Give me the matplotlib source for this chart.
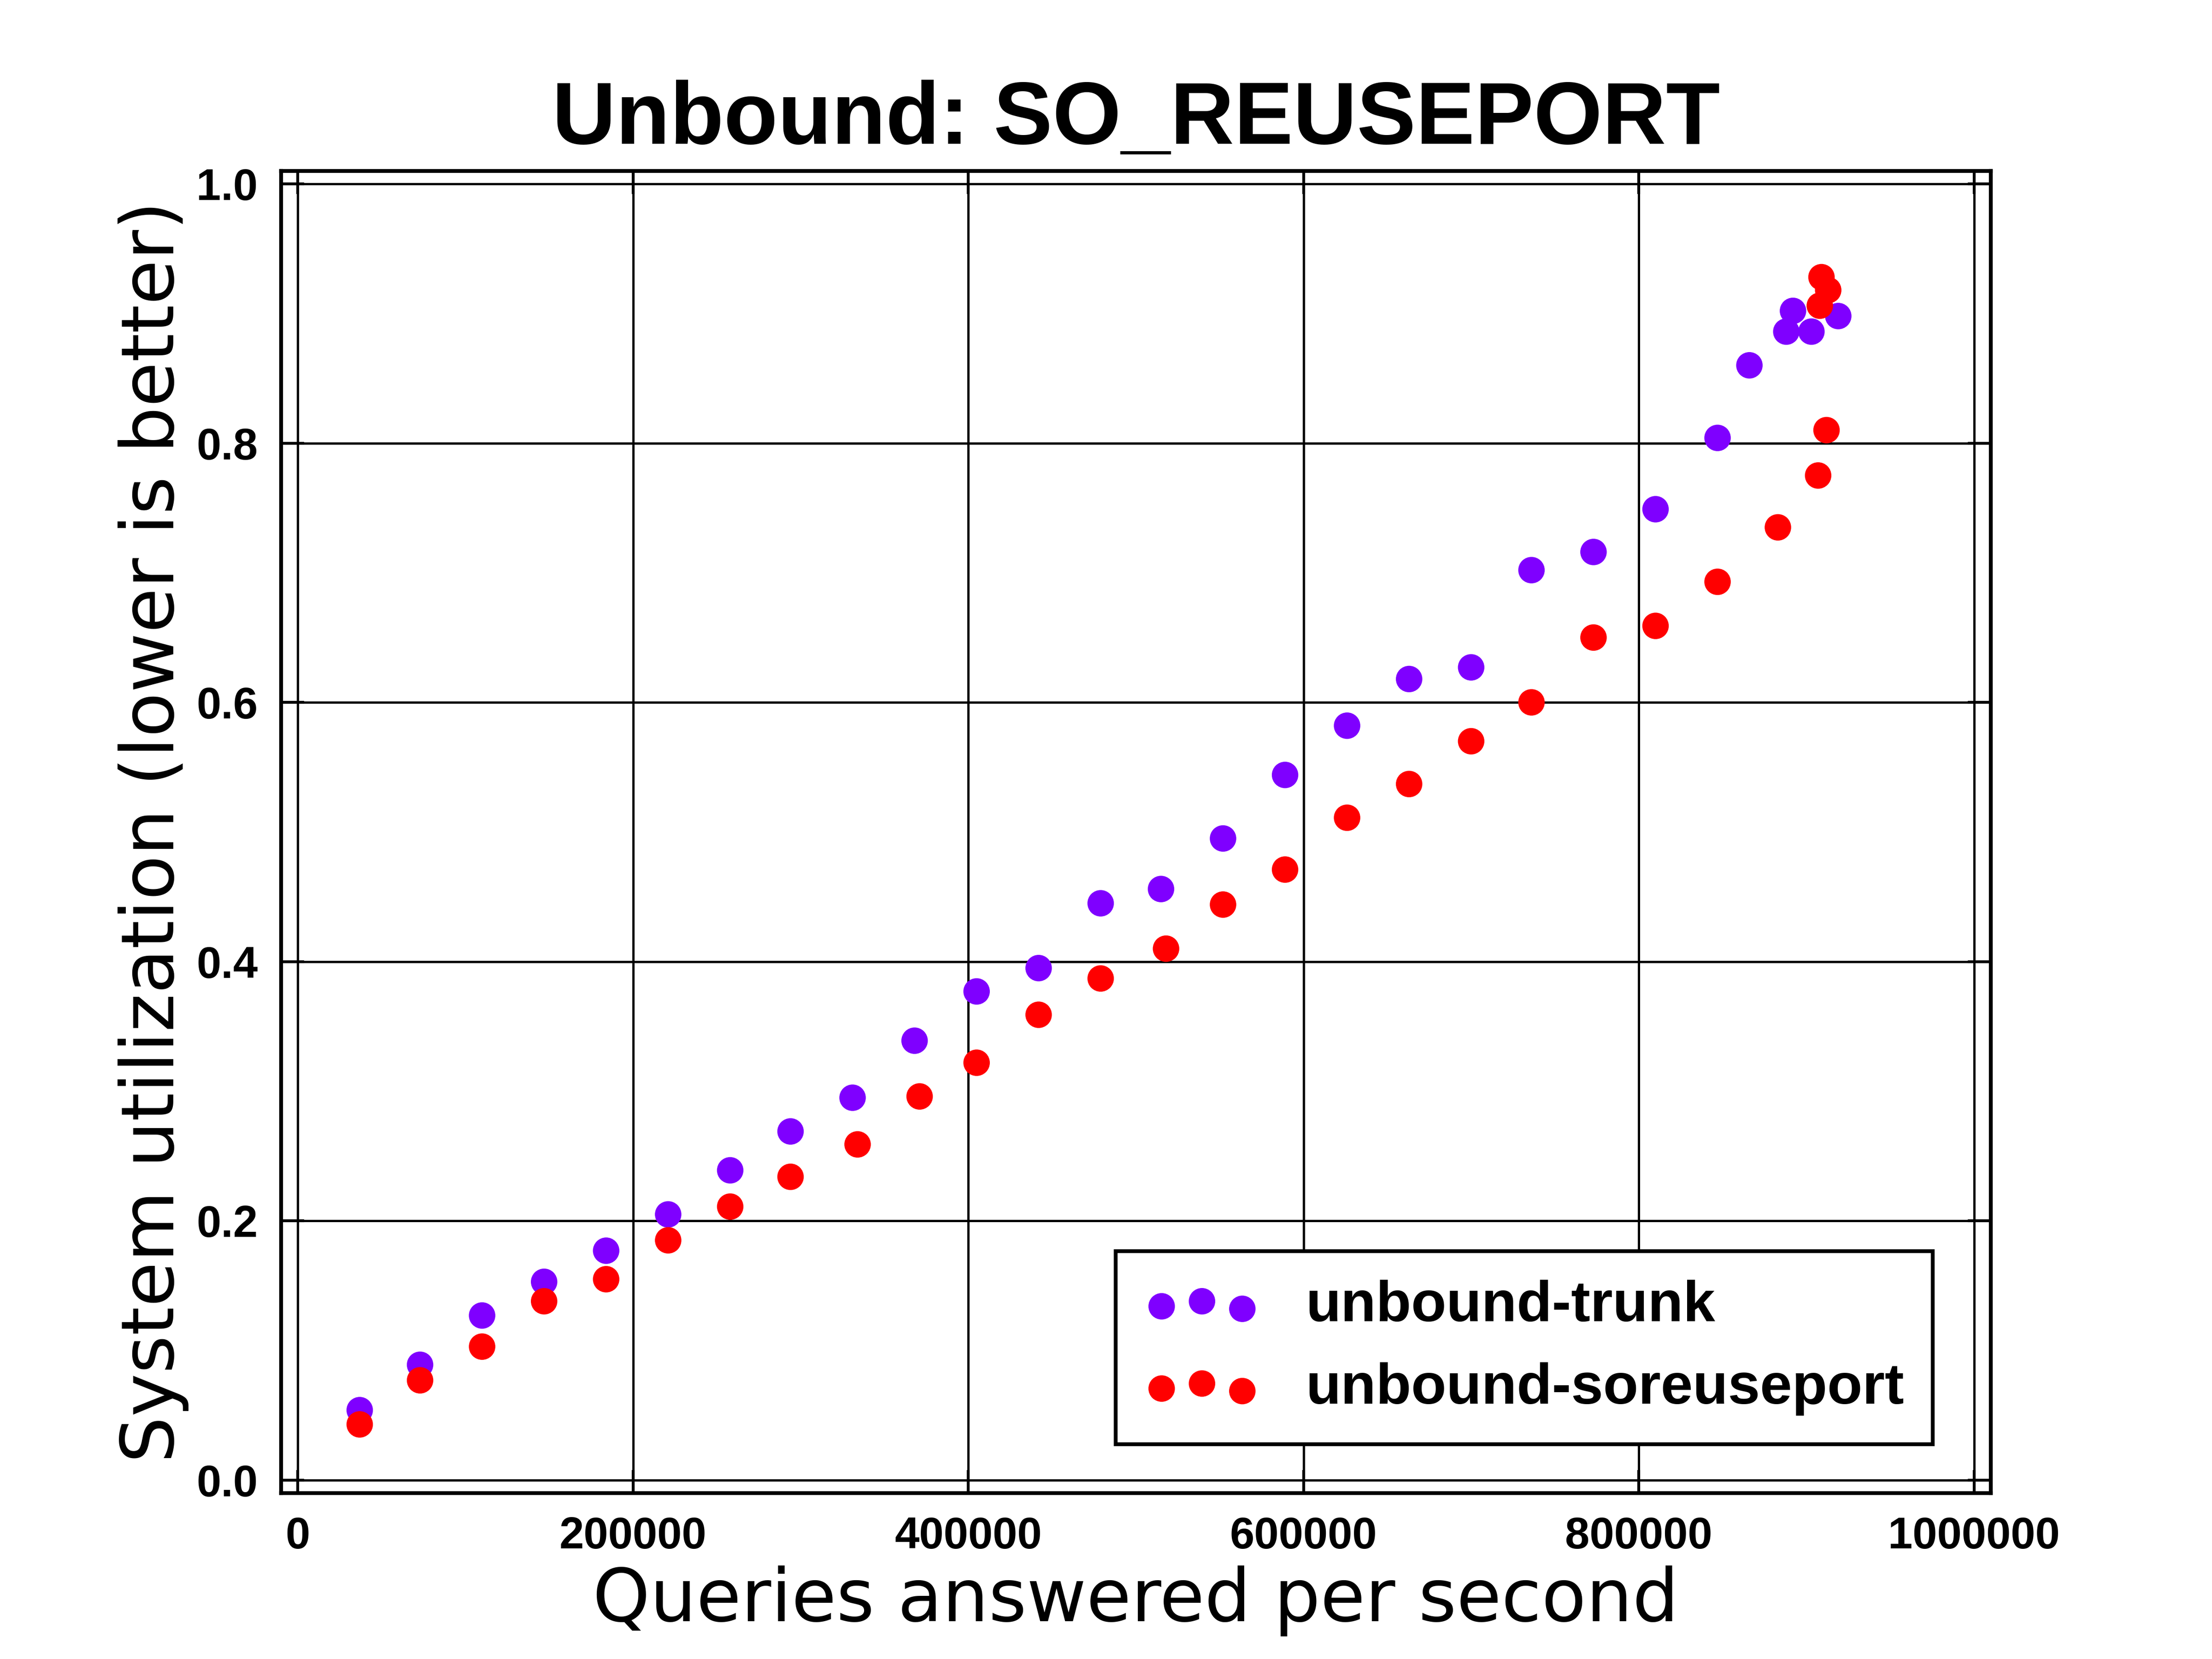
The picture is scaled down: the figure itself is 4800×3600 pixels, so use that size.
import matplotlib
matplotlib.use("Agg")
import matplotlib.pyplot as plt

trunk_x = [37000, 73000, 110000, 147000, 184000, 221000, 258000, 294000, 331000, 368000,
           405000, 442000, 479000, 515000, 552000, 589000, 626000, 663000, 700000, 736000,
           773000, 810000, 847000, 866000, 888000, 892000, 903000, 919000]
trunk_y = [0.054, 0.089, 0.127, 0.153, 0.177, 0.205, 0.239, 0.269, 0.295, 0.339,
           0.377, 0.395, 0.445, 0.456, 0.495, 0.544, 0.582, 0.618, 0.627, 0.702,
           0.716, 0.749, 0.804, 0.860, 0.886, 0.902, 0.886, 0.898]
sor_x = [37000, 73000, 110000, 147000, 184000, 221000, 258000, 294000, 334000, 371000,
         405000, 442000, 479000, 518000, 552000, 589000, 626000, 663000, 700000, 736000,
         773000, 810000, 847000, 883000, 907000, 912000, 909000, 913000, 908000]
sor_y = [0.043, 0.077, 0.103, 0.138, 0.155, 0.185, 0.211, 0.234, 0.259, 0.296,
         0.322, 0.359, 0.387, 0.410, 0.444, 0.471, 0.511, 0.537, 0.570, 0.600,
         0.650, 0.659, 0.693, 0.735, 0.775, 0.810, 0.928, 0.918, 0.906]
x_ticks = [0, 200000, 400000, 600000, 800000, 1000000]
y_ticks = [0.0, 0.2, 0.4, 0.6, 0.8, 1.0]

fig = plt.figure(figsize=(16, 12), dpi=300)
ax = fig.add_axes([0.127, 0.1, 0.773, 0.797])
ax.scatter(trunk_x, trunk_y, s=190, color="#7f00ff", edgecolors="none", label="unbound-trunk", zorder=3)
ax.scatter(sor_x, sor_y, s=190, color="#ff0000", edgecolors="none", label="unbound-soreuseport", zorder=3)

ax.set_xlim(-10000, 1010000)
ax.set_ylim(-0.01, 1.01)
ax.set_xticks(x_ticks)
ax.set_xticklabels([str(v) for v in x_ticks])
ax.set_yticks(y_ticks)
ax.set_yticklabels([f"{v:.1f}" for v in y_ticks])
ax.grid(True, color="black", linewidth=1.2)
ax.set_axisbelow(True)
ax.tick_params(direction="in", length=12, width=1.5, top=True, right=True, pad=12)
for lab in ax.get_xticklabels() + ax.get_yticklabels():
    lab.set_fontfamily("Liberation Sans")
    lab.set_fontweight("bold")
    lab.set_fontsize(23)
for sp in ax.spines.values():
    sp.set_linewidth(2)

ax.set_title("Unbound: SO_REUSEPORT", fontsize=46, fontweight="bold",
             family="Liberation Sans", pad=14)
ax.set_xlabel("Queries answered per second", fontsize=38, family="DejaVu Sans", labelpad=4)
ax.set_ylabel("System utilization (lower is better)", fontsize=38, family="DejaVu Sans")

leg = ax.legend(loc="lower right", scatterpoints=3, fancybox=False, framealpha=1,
                edgecolor="black", borderpad=0.5, labelspacing=0.5,
                prop={"family": "Liberation Sans", "weight": "bold", "size": 30},
                bbox_to_anchor=(0.983, 0.015))
leg.get_frame().set_linewidth(2)

fig.savefig("out.png", dpi=300)
